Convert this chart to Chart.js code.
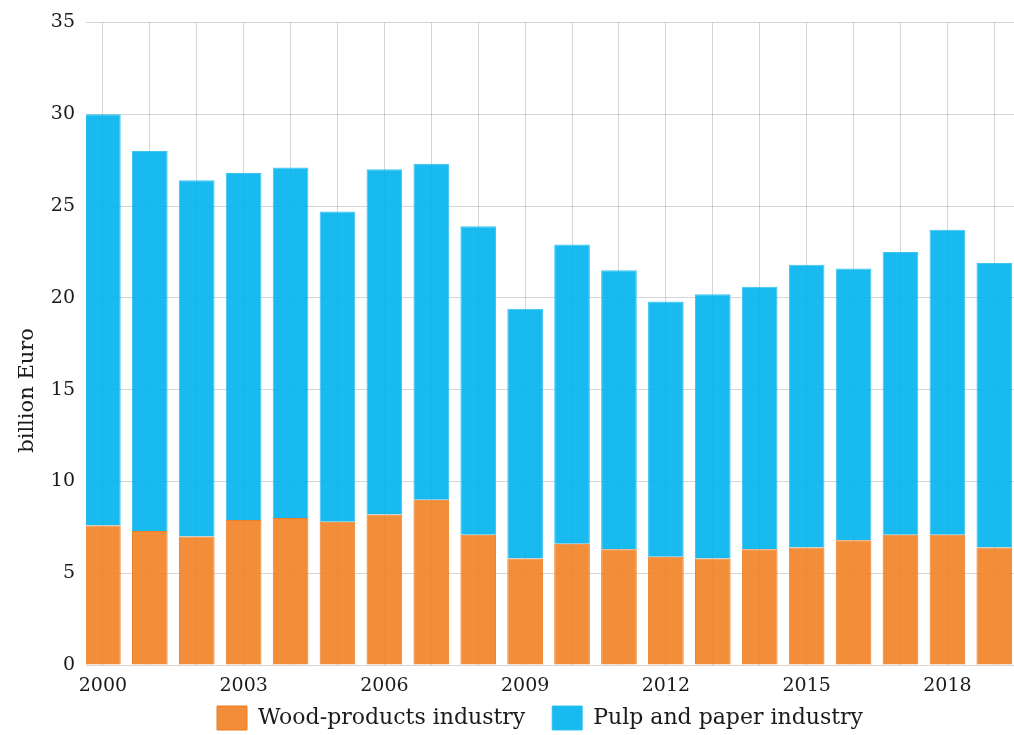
<!DOCTYPE html>
<html>
<head>
<meta charset="utf-8">
<title>Forest industry value added</title>
<script src="https://cdn.jsdelivr.net/npm/chart.js@4.4.1/dist/chart.umd.min.js"></script>
<style>
  html, body { margin: 0; padding: 0; background: #fff; }
  #wrap { width: 1014px; height: 735px; }
</style>
</head>
<body>
<div id="wrap"><canvas id="myChart" width="1014" height="735"></canvas></div>
<script>
// values, billion Euro
const years = [2000, 2001, 2002, 2003, 2004, 2005, 2006, 2007, 2008, 2009,
               2010, 2011, 2012, 2013, 2014, 2015, 2016, 2017, 2018, 2019];
const woodProducts = [7.6, 7.3, 7.0, 7.9, 8.0, 7.8, 8.2, 9.0, 7.1, 5.8,
                      6.6, 6.3, 5.9, 5.8, 6.3, 6.4, 6.8, 7.1, 7.1, 6.4];
const pulpPaper = [22.4, 20.7, 19.4, 18.9, 19.1, 16.9, 18.8, 18.3, 16.8, 13.6,
                   16.3, 15.2, 13.9, 14.4, 14.3, 15.4, 14.8, 15.4, 16.6, 15.5];
const yTicks = [0, 5, 10, 15, 20, 25, 30, 35];
const labelYears = [2000, 2003, 2006, 2009, 2012, 2015, 2018];

const serif = 'DejaVu Serif';
const textColor = '#1a1a1a';
const gridColor = 'rgba(0, 0, 0, 0.16)';

const toPoints = (vals) => years.map((yr, i) => ({ x: yr, y: vals[i] }));

// the year labels hang below the (thin) x axis box, so don't let them get clipped;
// also nudge the legend a little to the left like in the original
const layoutTweaks = {
    id: 'layoutTweaks',
    afterLayout: (chart) => {
        chart.scales.x.bottom = chart.height;
        chart.legend.left -= 10;
        chart.legend.right -= 10;
    }
};

const ctx = document.getElementById('myChart').getContext('2d');
new Chart(ctx, {
    type: 'bar',
    data: {
        datasets: [{
            label: 'Wood-products industry',
            data: toPoints(woodProducts),
            backgroundColor: 'rgba(241, 130, 36, 0.9)', // orange
            borderColor: 'rgba(236, 120, 28, 0.95)',
            borderWidth: 1,
            barPercentage: 0.76,
            categoryPercentage: 1
        }, {
            label: 'Pulp and paper industry',
            data: toPoints(pulpPaper),
            backgroundColor: 'rgba(0, 178, 238, 0.9)', // blue
            borderColor: 'rgba(40, 190, 240, 0.9)',
            borderWidth: 1,
            barPercentage: 0.76,
            categoryPercentage: 1
        }]
    },
    plugins: [layoutTweaks],
    options: {
        responsive: false,
        animation: false,
        layout: { padding: { top: 22, right: 0, bottom: -5, left: 0 } },
        plugins: {
            tooltip: { enabled: false },
            legend: {
                position: 'bottom',
                fullSize: false,
                labels: {
                    boxWidth: 30,
                    boxHeight: 24,
                    padding: 27,
                    color: textColor,
                    font: { family: serif, size: 22 }
                }
            }
        },
        scales: {
            x: {
                type: 'linear',
                stacked: true,
                offset: false,
                min: 1999.64,
                max: 2019.42,
                border: { display: false },
                grid: { color: gridColor, drawTicks: false, offset: false },
                ticks: {
                    stepSize: 1,
                    includeBounds: false,
                    autoSkip: false,
                    maxRotation: 0,
                    padding: 10,
                    color: textColor,
                    font: { family: serif, size: 19 },
                    callback: (v) => labelYears.includes(v) ? String(v) : ''
                },
                afterFit: (scale) => { scale.height = 14; }
            },
            y: {
                stacked: true,
                min: 0,
                max: 35,
                border: { display: false },
                grid: { color: gridColor, drawTicks: false },
                afterBuildTicks: (scale) => { scale.ticks = yTicks.map(v => ({ value: v })); },
                ticks: {
                    padding: 11,
                    color: textColor,
                    font: { family: serif, size: 19 }
                },
                title: {
                    display: true,
                    text: 'billion Euro              ',
                    color: textColor,
                    font: { family: serif, size: 21 },
                    padding: { top: 15, bottom: 0 }
                },
                afterFit: (scale) => { scale.width = 86; }
            }
        }
    }
});
</script>
</body>
</html>
